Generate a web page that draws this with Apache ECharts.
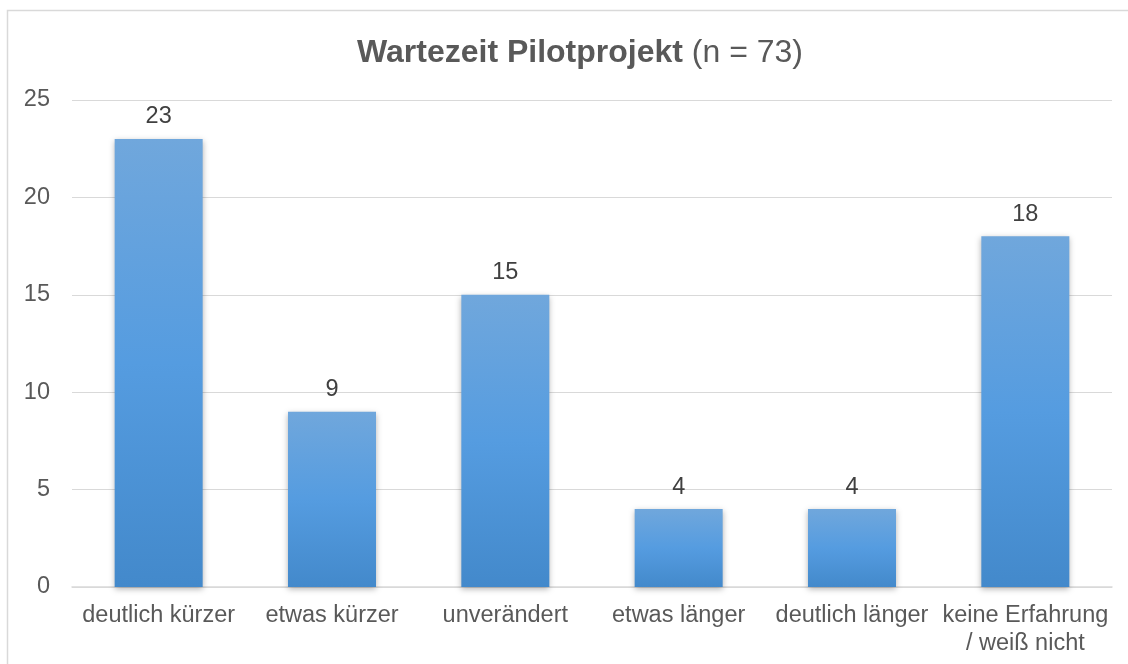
<!DOCTYPE html>
<html>
<head>
<meta charset="utf-8">
<script src="https://cdn.jsdelivr.net/npm/echarts@6/dist/echarts.min.js"></script>
<style>
html,body{margin:0;padding:0;background:#fff;}
#c{width:1128px;height:664px;}
</style>
</head>
<body>
<div id="c"></div>
<script>
const categories = ['deutlich kürzer', 'etwas kürzer', 'unverändert', 'etwas länger', 'deutlich länger', 'keine Erfahrung\n/ weiß nicht'];
const values = [23, 9, 15, 4, 4, 18];
const yTicks = [0, 5, 10, 15, 20, 25];

const chart = echarts.init(document.getElementById('c'));
const font = '"Liberation Sans", Arial, sans-serif';
chart.setOption({
  animation: false,
  backgroundColor: '#fff',
  graphic: [{
    type: 'rect',
    shape: { x: 7.5, y: 10.5, width: 1130, height: 670 },
    style: { fill: 'none', stroke: '#d9d9d9', lineWidth: 1.5 },
    silent: true
  }],
  title: {
    text: '{b|Wartezeit Pilotprojekt}{n| (n = 73)}',
    left: 575,
    textAlign: 'center',
    top: 32,
    textStyle: {
      rich: {
        b: { fontFamily: font, fontSize: 32, fontWeight: 'bold', color: '#595959' },
        n: { fontFamily: font, fontSize: 32, fontWeight: 'normal', color: '#595959' }
      }
    }
  },
  grid: { left: 72, right: 16, top: 100, bottom: 77, containLabel: false },
  xAxis: {
    type: 'category',
    data: categories,
    axisLine: { lineStyle: { color: '#d9d9d9', width: 1.5 } },
    axisTick: { show: false },
    axisLabel: { fontFamily: font, fontSize: 23.5, color: '#595959', margin: 15, lineHeight: 28, interval: 0 }
  },
  yAxis: {
    type: 'value',
    min: yTicks[0],
    max: yTicks[yTicks.length - 1],
    interval: 5,
    axisLine: { show: false },
    axisTick: { show: false },
    splitLine: { lineStyle: { color: '#d9d9d9', width: 1 } },
    axisLabel: { fontFamily: font, fontSize: 23.5, color: '#595959', margin: 22, align: 'right' }
  },
  series: [{
    type: 'bar',
    data: values,
    barWidth: 88,
    itemStyle: {
      color: new echarts.graphic.LinearGradient(0, 0, 0, 1, [
        { offset: 0, color: '#70a7dc' },
        { offset: 0.5, color: '#559ce0' },
        { offset: 1, color: '#4389cb' }
      ]),
      shadowBlur: 6,
      shadowColor: 'rgba(0,0,0,0.3)',
      shadowOffsetX: 0,
      shadowOffsetY: 2
    },
    label: {
      show: true,
      position: 'top',
      distance: 10,
      fontFamily: font,
      fontSize: 23.5,
      color: '#404040'
    }
  }]
});
</script>
</body>
</html>
